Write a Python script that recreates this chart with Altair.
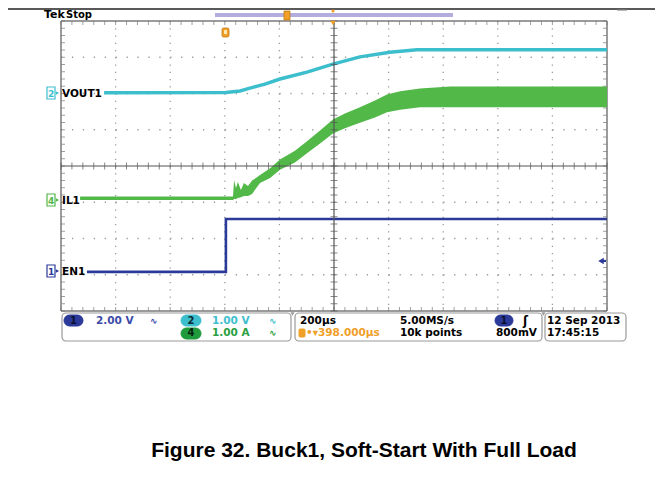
import altair as alt
import pandas as pd

# ---------------- data (time in µs, amplitude in divisions) ----------------
vout_t = [-842, -396, -344, -308, -253, -198, -99, -4, 95, 205, 304, 425, 1000]
vout_v = [2.02, 2.03, 2.07, 2.15, 2.26, 2.40, 2.59, 2.81, 3.01, 3.14, 3.21, 3.21, 3.21]

il_t = [-930, -370, -366, -359, -352, -341, -330, -315, -300, -286, -271, -234, -198,
        -143, -99, -51, -4, 40, 95, 150, 194, 242, 315, 425, 608, 791, 1000]
il_hi = [-0.84, -0.84, -0.39, -0.61, -0.44, -0.66, -0.47, -0.55, -0.40, -0.33, -0.25, -0.06, 0.18,
         0.42, 0.68, 0.98, 1.28, 1.45, 1.62, 1.81, 1.97, 2.06, 2.14, 2.19, 2.19, 2.19, 2.19]
il_lo = [-0.94, -0.94, -0.91, -0.91, -0.88, -0.86, -0.83, -0.83, -0.77, -0.62, -0.47, -0.33, -0.10,
         0.10, 0.35, 0.62, 0.90, 1.04, 1.19, 1.34, 1.48, 1.55, 1.62, 1.62, 1.62, 1.62, 1.62]

en_t = [-905, -396, -396, 1000]
en_v = [-2.92, -2.92, -1.46, -1.46]

vgrid_t = [-800, -600, -400, -200, 200, 400, 600, 800]
hgrid_d = [-3, -2, -1, 1, 2, 3]
xminor = list(range(-1000, 1001, 40))
yminor = [round(-4 + 0.2 * i, 2) for i in range(41)]

caption = "Figure 32. Buck1, Soft-Start With Full Load"

# ---------------- layout ----------------
W, H = 546, 290
X0, Y0 = 61, 21

CYAN = "#3dbecd"
GREEN = "#52b848"
BLUE = "#2b3a98"
ORANGE = "#f0a028"
FONT = "DejaVu Sans"
CAPFONT = "Liberation Sans"

XS = alt.Scale(domain=[-1000, 1000], nice=False, zero=False)
YS = alt.Scale(domain=[-4, 4], nice=False, zero=False)

dummy = pd.DataFrame({"a": [0]})


def px(x):
    return x - X0


def py(y):
    return y - Y0


def txt(s, x, y, color="black", size=11, weight="normal", align="left", font=FONT):
    return alt.Chart(dummy).mark_text(
        text=s, align=align, baseline="middle", color=color, fontSize=size,
        fontWeight=weight, font=font
    ).encode(x=alt.value(px(x)), y=alt.value(py(y)))


def box(x1, y1, x2, y2, fill="white", stroke="#999999", r=0, sw=1.0):
    return alt.Chart(dummy).mark_rect(
        fill=fill, stroke=stroke, strokeWidth=sw, cornerRadius=r
    ).encode(x=alt.value(px(x1)), x2=alt.value(px(x2)),
             y=alt.value(py(y1)), y2=alt.value(py(y2)))


def hline(x1, x2, y, color, sw=1.0):
    return alt.Chart(dummy).mark_rule(color=color, strokeWidth=sw).encode(
        x=alt.value(px(x1)), x2=alt.value(px(x2)), y=alt.value(py(y)))


def vline(x, y1, y2, color, sw=1.0):
    return alt.Chart(dummy).mark_rule(color=color, strokeWidth=sw).encode(
        x=alt.value(px(x)), y=alt.value(py(y1)), y2=alt.value(py(y2)))


def pt(x, y, shape, color, size=30):
    return alt.Chart(dummy).mark_point(shape=shape, filled=True, color=color, size=size, opacity=1).encode(
        x=alt.value(px(x)), y=alt.value(py(y)))


layers = []

# graticule dotted grid
layers.append(alt.Chart(pd.DataFrame({"t": vgrid_t})).mark_rule(
    color="#9c9c9c", strokeWidth=1.3, strokeDash=[1.3, 5.95]).encode(
    x=alt.X("t:Q", scale=XS, axis=None), y=alt.value(0), y2=alt.value(H)))
layers.append(alt.Chart(pd.DataFrame({"d": hgrid_d})).mark_rule(
    color="#9c9c9c", strokeWidth=1.3, strokeDash=[1.3, 9.62]).encode(
    y=alt.Y("d:Q", scale=YS, axis=None), x=alt.value(0), x2=alt.value(W)))


def xticks(yc, size, color="#777777"):
    return alt.Chart(pd.DataFrame({"t": xminor})).mark_tick(
        orient="vertical", size=size, thickness=1, color=color).encode(
        x=alt.X("t:Q", scale=XS, axis=None), y=alt.value(yc))


def yticks(xc, size, color="#777777"):
    return alt.Chart(pd.DataFrame({"d": yminor})).mark_tick(
        orient="horizontal", size=size, thickness=1, color=color).encode(
        y=alt.Y("d:Q", scale=YS, axis=None), x=alt.value(xc))


layers += [xticks(2, 4), xticks(H - 2, 4), yticks(2, 4), yticks(W - 2, 4)]

# borders
layers += [
    hline(X0, X0 + W, Y0, "#7a7a7a", 1.5),
    hline(X0, X0 + W, Y0 + H, "#7a7a7a", 1.5),
    vline(X0, Y0, Y0 + H, "#7a7a7a", 1.5),
    vline(X0 + W, Y0, Y0 + H, "#7a7a7a", 1.5),
]

# traces
layers.append(alt.Chart(pd.DataFrame({"t": il_t, "hi": il_hi, "lo": il_lo})).mark_area(
    color=GREEN, opacity=1, interpolate="linear").encode(
    x=alt.X("t:Q", scale=XS, axis=None),
    y=alt.Y("hi:Q", scale=YS, axis=None),
    y2="lo:Q"))
layers.append(alt.Chart(pd.DataFrame({"t": vout_t, "v": vout_v})).mark_line(
    color=CYAN, strokeWidth=3.5).encode(
    x=alt.X("t:Q", scale=XS, axis=None), y=alt.Y("v:Q", scale=YS, axis=None)))
layers.append(alt.Chart(pd.DataFrame({"t": en_t, "v": en_v, "i": list(range(len(en_t)))})).mark_line(
    color=BLUE, strokeWidth=2.6).encode(
    x=alt.X("t:Q", scale=XS, axis=None), y=alt.Y("v:Q", scale=YS, axis=None),
    order="i:O"))

# centre crosshair on top
layers.append(alt.Chart(dummy).mark_rule(color="#555555", strokeWidth=1.2).encode(
    x=alt.value(W / 2), y=alt.value(0), y2=alt.value(H)))
layers.append(alt.Chart(dummy).mark_rule(color="#555555", strokeWidth=1.2).encode(
    y=alt.value(H / 2), x=alt.value(0), x2=alt.value(W)))
layers += [xticks(H / 2, 7, "#555555"), yticks(W / 2, 7, "#555555")]

# channel ground markers & labels
for num, lab, yy, col in [("2", "VOUT1", 93, CYAN), ("4", "IL1", 200, GREEN), ("1", "EN1", 271, BLUE)]:
    layers.append(box(47, yy - 6, 55, yy + 6, fill="white", stroke=col, sw=1.2))
    layers.append(pt(57.5, yy, "triangle-right", col, 14))
    layers.append(txt(num, 51, yy + 0.5, color=col, size=9, weight="bold", align="center"))
    layers.append(txt(lab, 62, yy + 0.5, color="black", size=10.5, weight="bold"))

# trigger level arrow at right
layers.append(pt(601, 261, "triangle-left", BLUE, 40))
layers.append(hline(601, 606, 261, BLUE, 2))

# top header
layers.append(hline(0, 671, 9, "#222222", 1.5))
layers.append(txt("Tek", 44, 15, size=11, weight="bold"))
layers.append(txt("Stop", 66, 15, size=10, weight="bold"))
layers.append(box(215, 13, 453, 17, fill="#b3acdf", stroke="#b3acdf", sw=0))
layers.append(box(284, 11, 290, 20, fill=ORANGE, stroke="#c07810", sw=0.8))
layers.append(pt(333, 11, "circle", ORANGE, 10))
layers.append(pt(333, 23, "triangle-down", ORANGE, 30))
layers.append(box(222, 28, 229, 37, fill=ORANGE, stroke="#c07810", r=1.5, sw=0.8))
layers.append(box(224, 30, 227, 34, fill="#ffe8b0", stroke="#ffe8b0", sw=0))
layers.append(hline(617, 627, 10, "#888888", 1.2))

# status bar
layers += [
    box(62, 313, 291, 341, r=4, stroke="#9a9a9a", sw=1.2),
    box(295, 313, 542, 341, r=4, stroke="#9a9a9a", sw=1.2),
    box(545, 313, 626, 341, r=4, stroke="#9a9a9a", sw=1.2),
    pt(292.5, 314, "triangle-down", "#9a9a9a", 18),
    pt(543.5, 314, "triangle-down", "#9a9a9a", 18),
]
R1, R2 = 320.5, 333
S = 10.5
layers += [
    box(64, 315, 83, 326, fill=BLUE, stroke=BLUE, r=5.5),
    txt("1", 73.5, R1, color="#0a1030", size=10, weight="bold", align="center"),
    txt("2.00 V", 96, R1, color="#3b4aa8", size=S, weight="bold"),
    txt("∿", 150, R1, color="#3b4aa8", size=9, weight="bold"),
    box(181, 315, 201, 326, fill=CYAN, stroke=CYAN, r=5.5),
    txt("2", 191, R1, color="#0a2a30", size=10, weight="bold", align="center"),
    txt("1.00 V", 212, R1, color=CYAN, size=S, weight="bold"),
    txt("∿", 269, R1, color=CYAN, size=9, weight="bold"),
    box(181, 328, 201, 339, fill="#1f9a3c", stroke="#1f9a3c", r=5.5),
    txt("4", 191, R2, color="#062010", size=10, weight="bold", align="center"),
    txt("1.00 A", 212, R2, color="#2aa040", size=S, weight="bold"),
    txt("∿", 269, R2, color="#2aa040", size=9, weight="bold"),
    txt("200µs", 300, R1, size=S, weight="bold"),
    box(299, 329, 305, 337, fill=ORANGE, stroke=ORANGE, r=1),
    txt("•▾398.000µs", 306, R2, color=ORANGE, size=S, weight="bold"),
    txt("5.00MS/s", 400, R1, size=S, weight="bold"),
    txt("10k points", 400, R2, size=S, weight="bold"),
    box(495, 315, 513, 326, fill=BLUE, stroke=BLUE, r=5.5),
    txt("1", 504, R1, color="#0a1030", size=10, weight="bold", align="center"),
    txt("ʃ", 523, R1, size=12, weight="bold"),
    txt("800mV", 496, R2, size=S, weight="bold"),
    txt("12 Sep  2013", 547, R1, size=S, weight="bold"),
    txt("17:45:15", 547, R2, size=S, weight="bold"),
]

# caption
layers.append(txt(caption, 364, 451, size=21, weight="bold", align="center", font=CAPFONT))

chart = alt.layer(*layers).properties(
    width=W, height=H,
    padding={"left": X0 - 8, "top": Y0 - 8, "right": 48, "bottom": 150},
    autosize=alt.AutoSizeParams(type="none"),
    background="white",
).configure_view(stroke=None)

chart.save("out.html", embed_options={"renderer": "svg", "actions": False})
